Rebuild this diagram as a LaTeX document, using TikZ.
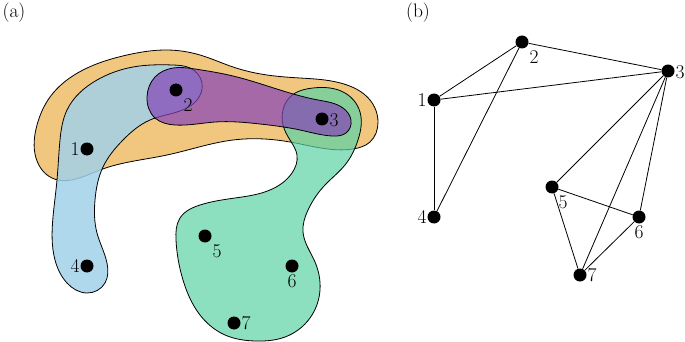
\documentclass[tikz,border=0pt]{standalone}
\usetikzlibrary{calc,hobby}
\definecolor{cOrange}{RGB}{240,196,120}
\definecolor{cBlue}{RGB}{162,209,233}
\definecolor{cGreen}{RGB}{91,211,165}
\definecolor{cPurple}{RGB}{133,66,184}
\tikzset{
  dot/.style={circle,fill=black,inner sep=0pt,minimum size=13pt},
  lbl/.style={inner sep=0pt,font=\fontsize{19.5}{22}\selectfont},
  blob/.style={draw=black,line width=0.8pt},
  edge/.style={draw=black,line width=0.8pt}
}
\begin{document}
\begin{tikzpicture}[x=1pt,y=-1pt]
\useasboundingbox (0,0) rectangle (685,342);
% panel labels
\node[lbl] (pa) at (14,13) {(a)};
\node[lbl] (pb) at (418,13) {(b)};
% blobs
\path[blob,fill=cOrange,fill opacity=0.95] plot[closed hobby] coordinates {
 (37,125) (50,97) (83,70) (127,55) (167,50) (200,55) (233,67) (267,75) (300,78)
 (347,85) (370,100) (378,122) (370,142) (353,149) (290,142) (233,140) (167,155)
 (100,170) (52,178) (36,158)};
\path[blob,fill=cBlue,fill opacity=0.85] plot[closed hobby] coordinates {
 (173,65) (133,67) (97,80) (67,110) (60,140) (57,180) (53,217) (55,260) (67,283)
 (87,293) (105,283) (107,263) (97,233) (95,200) (103,167) (123,140) (150,120)
 (177,112) (197,100) (202,83) (190,68)};
\path[blob,fill=cGreen,fill opacity=0.7] plot[closed hobby] coordinates {
 (290,97) (313,88) (345,93) (360,112) (358,140) (345,165) (325,185) (308,210)
 (303,232) (315,262) (320,290) (310,318) (285,337) (255,341) (225,335) (200,315)
 (183,280) (176,240) (180,218) (200,205) (235,198) (270,190) (292,173) (297,155)
 (290,140) (283,125) (283,110)};
\path[blob,fill=cPurple,fill opacity=0.7] plot[closed hobby] coordinates {
 (147,97) (155,77) (173,68) (195,69) (233,76) (280,90) (318,100) (343,108) (351,120)
 (346,133) (332,136) (300,130) (260,124) (215,122) (175,125) (155,118)};
% nodes (a)
\node[dot] (a1) at (87,149) {};
\node[dot] (a2) at (176,90) {};
\node[dot] (a3) at (322,119) {};
\node[dot] (a4) at (87,266) {};
\node[dot] (a5) at (205,236) {};
\node[dot] (a6) at (292,266) {};
\node[dot] (a7) at (234,323) {};
\node[lbl] (la1) at ([shift={(-12,0)}]a1.center) {1};
\node[lbl] (la2) at ([shift={(12,15)}]a2.center) {2};
\node[lbl] (la3) at ([shift={(12,1)}]a3.center) {3};
\node[lbl] (la4) at ([shift={(-12,0)}]a4.center) {4};
\node[lbl] (la5) at ([shift={(12,15)}]a5.center) {5};
\node[lbl] (la6) at ([shift={(0,15)}]a6.center) {6};
\node[lbl] (la7) at ([shift={(12,0)}]a7.center) {7};
% nodes (b)
\node[dot] (b1) at (434,100) {};
\node[dot] (b2) at (522,42) {};
\node[dot] (b3) at (668,71) {};
\node[dot] (b4) at (434,217) {};
\node[dot] (b5) at (552,187) {};
\node[dot] (b6) at (639,217) {};
\node[dot] (b7) at (580,275) {};
\draw[edge] (b1) -- (b2);
\draw[edge] (b1) -- (b3);
\draw[edge] (b1) -- (b4);
\draw[edge] (b2) -- (b3);
\draw[edge] (b2) -- (b4);
\draw[edge] (b3) -- (b5);
\draw[edge] (b3) -- (b6);
\draw[edge] (b3) -- (b7);
\draw[edge] (b5) -- (b6);
\draw[edge] (b5) -- (b7);
\draw[edge] (b6) -- (b7);
\node[lbl] (lb1) at ([shift={(-12,0)}]b1.center) {1};
\node[lbl] (lb2) at ([shift={(12,15)}]b2.center) {2};
\node[lbl] (lb3) at ([shift={(12,1)}]b3.center) {3};
\node[lbl] (lb4) at ([shift={(-12,0)}]b4.center) {4};
\node[lbl] (lb5) at ([shift={(11,15)}]b5.center) {5};
\node[lbl] (lb6) at ([shift={(0,15)}]b6.center) {6};
\node[lbl] (lb7) at ([shift={(12,0)}]b7.center) {7};
\end{tikzpicture}
\end{document}
